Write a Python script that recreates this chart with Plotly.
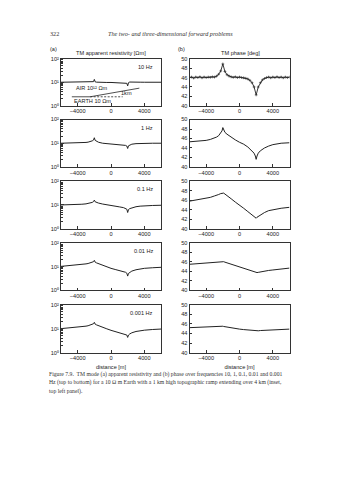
import plotly.graph_objects as go

W, H = 338, 480

# ---------------- data ----------------
frequencies = ["10 Hz", "1 Hz", "0.1 Hz", "0.01 Hz", "0.001 Hz"]

x_grid = [-6000, -5000, -4000, -3500, -3000, -2750, -2500, -2250, -2100, -2000,
          -1900, -1750, -1500, -1000, -500, 0, 500, 1000, 1500, 1750,
          1900, 2000, 2100, 2250, 2500, 3000, 3500, 4000, 5000, 6000]

rho_10 = [10, 10, 10, 10, 10, 10, 10.05, 10.2, 10.6, 13.2,
          10.4, 10.1, 9.9, 9.8, 9.8, 9.8, 9.75, 9.7, 9.6, 9.4,
          9.0, 7.0, 9.6, 10.2, 10.3, 10.1, 10.05, 10, 10, 10]
rho_1 = [10, 10.05, 10.2, 10.4, 10.8, 11.1, 11.6, 12.6, 13.6, 17.0,
         13.2, 12.0, 11.0, 10.0, 9.6, 9.3, 9.1, 8.9, 8.5, 8.1,
         7.6, 6.0, 7.8, 8.5, 9.1, 9.6, 9.8, 9.9, 10, 10]
rho_01 = [10, 10.1, 10.4, 10.7, 11.1, 11.4, 11.9, 12.8, 13.8, 16.0,
          13.6, 12.8, 12.0, 10.9, 10.0, 9.2, 8.7, 8.3, 7.7, 7.2,
          6.6, 4.8, 6.4, 7.0, 7.6, 8.4, 8.9, 9.2, 9.5, 9.7]
rho_001 = [10.3, 10.9, 11.8, 12.4, 13.1, 13.6, 14.3, 15.3, 16.2, 18.5,
           15.5, 14.5, 13.3, 11.5, 9.8, 8.5, 7.6, 7.0, 6.3, 5.8,
           5.3, 4.0, 5.2, 5.8, 6.5, 7.4, 8.0, 8.5, 9.0, 9.4]
rho_0001 = [10.0, 10.6, 11.4, 12.0, 12.7, 13.2, 13.9, 15.0, 16.0, 18.3,
            15.4, 14.4, 13.2, 11.4, 9.8, 8.5, 7.6, 7.0, 6.3, 5.9,
            5.4, 4.3, 5.4, 6.0, 6.7, 7.6, 8.2, 8.6, 9.2, 9.6]

x_fine = list(range(-6000, 6001, 250))
phase_10 = [46.0, 46.1, 45.9, 46.1, 46.0, 46.15, 45.95, 46.1, 46.0, 46.1, 46.05, 46.15, 46.1,
            46.3, 46.7, 47.4, 48.9, 47.3, 46.6, 46.3, 46.15, 46.05, 46.15, 46.0, 46.1,
            46.0, 45.95, 45.85, 45.7, 45.4, 44.9, 44.0, 42.3, 44.0, 44.9, 45.5, 45.8,
            46.0, 46.1, 45.95, 46.1, 46.0, 46.15, 46.0, 46.1, 45.95, 46.1, 46.0, 46.1]
phase_1 = [45.3, 45.4, 45.6, 45.8, 46.1, 46.3, 46.6, 47.1, 47.6, 48.3,
           47.7, 47.3, 46.9, 46.2, 45.7, 45.2, 44.8, 44.2, 43.4, 42.9,
           42.3, 41.6, 42.3, 42.9, 43.4, 44.0, 44.4, 44.7, 45.0, 45.1]
phase_01 = [45.8, 46.1, 46.4, 46.6, 46.9, 47.0, 47.2, 47.4, 47.5, 47.6,
            47.5, 47.3, 47.0, 46.3, 45.6, 45.0, 44.3, 43.6, 42.9, 42.6,
            42.4, 42.2, 42.4, 42.6, 42.9, 43.4, 43.8, 44.0, 44.3, 44.5]
phase_001 = [45.5, 45.65, 45.8, 45.85, 45.95, 46.0, 46.05, 46.1, 46.1, 46.1,
             46.05, 45.95, 45.8, 45.5, 45.2, 44.9, 44.6, 44.3, 44.0, 43.85,
             43.8, 43.7, 43.75, 43.8, 43.9, 44.1, 44.2, 44.3, 44.5, 44.7]
phase_0001 = [45.2, 45.3, 45.35, 45.4, 45.45, 45.45, 45.5, 45.5, 45.5, 45.5,
              45.45, 45.4, 45.3, 45.15, 45.0, 44.9, 44.8, 44.7, 44.6, 44.55,
              44.5, 44.5, 44.5, 44.55, 44.6, 44.65, 44.7, 44.75, 44.85, 44.9]

# inset sketch (top-left panel), in panel data units
inset_flat_x = [-4700, -2500]
inset_flat_y = [2.4, 2.4]
inset_ramp_x = [-2500, 3400]
inset_ramp_y = [2.4, 5.6]
inset_dash_x = [-2500, 1400]
inset_dash_y = [2.4, 2.4]

x_ticks = [-4000, 0, 4000]
x_ticktext = ["\u22124000", "0", "4000"]
rho_ticks = [1, 10, 100]
rho_ticktext = ["10\u2070", "10\u00b9", "10\u00b2"]
rho_minor = [2, 3, 4, 5, 6, 7, 8, 9, 20, 30, 40, 50, 60, 70, 80, 90]
phase_ticks = [40, 42, 44, 46, 48, 50]
phase_ticktext = ["40", "42", "44", "46", "48", "50"]

rho_series = [rho_10, rho_1, rho_01, rho_001, rho_0001]
phase_series = [phase_10, phase_1, phase_01, phase_001, phase_0001]

# ---------------- layout geometry (pixels) ----------------
col_px = [(61, 161), (189.5, 289.5)]
row_px = [(56.5, 104), (118, 166), (180.5, 228.5), (243, 291), (305.5, 354)]

SANS = "Liberation Sans, Arial, sans-serif"
SERIF = "Liberation Serif, Times New Roman, serif"
INK = "#222222"
FS = 5.6

fig = go.Figure()
layout = dict(
    width=W, height=H, margin=dict(l=0, r=0, t=0, b=0),
    paper_bgcolor="white", plot_bgcolor="white", showlegend=False,
    font=dict(family=SANS, size=FS, color=INK),
)
annotations = []

for r in range(5):
    for c in range(2):
        idx = r * 2 + c + 1
        xa = "xaxis" if idx == 1 else f"xaxis{idx}"
        ya = "yaxis" if idx == 1 else f"yaxis{idx}"
        xr = "x" if idx == 1 else f"x{idx}"
        yr = "y" if idx == 1 else f"y{idx}"
        x0, x1 = col_px[c]
        t0, b0 = row_px[r]
        common = dict(showline=True, mirror=True, linecolor="#333333", linewidth=1,
                      ticks="inside", ticklen=2.5, tickwidth=0.8, tickcolor="#333333",
                      showgrid=False, zeroline=False,
                      tickfont=dict(family=SANS, size=FS, color=INK))
        xdict = dict(domain=[x0 / W, x1 / W], anchor=yr, range=[-6000, 6000],
                     tickmode="array", tickvals=x_ticks, ticktext=x_ticktext, **common)
        if r == 4:
            xdict["title"] = dict(text="distance [m]", font=dict(family=SANS, size=FS),
                                  standoff=4)
        layout[xa] = xdict
        if c == 0:
            layout[ya] = dict(domain=[1 - b0 / H, 1 - t0 / H], anchor=xr, type="log",
                              range=[0, 2], tickmode="array", tickvals=rho_ticks,
                              ticktext=rho_ticktext,
                              minor=dict(ticks="inside", ticklen=1.5, tickvals=rho_minor,
                                         tickcolor="#333333", tickwidth=0.6),
                              **common)
            fig.add_trace(go.Scatter(x=x_grid, y=rho_series[r], mode="lines",
                                     line=dict(color=INK, width=1), xaxis=xr, yaxis=yr))
            annotations.append(dict(text=frequencies[r], xref=f"{xr} domain", yref=f"{yr} domain",
                                    x=0.94, y=0.83, xanchor="right", yanchor="middle",
                                    showarrow=False, font=dict(family=SANS, size=FS, color=INK)))
        else:
            layout[ya] = dict(domain=[1 - b0 / H, 1 - t0 / H], anchor=xr,
                              range=[40, 50], tickmode="array", tickvals=phase_ticks,
                              ticktext=phase_ticktext, **common)
            if r == 0:
                fig.add_trace(go.Scatter(x=x_fine, y=phase_series[r], mode="lines+markers",
                                         line=dict(color=INK, width=0.9),
                                         marker=dict(symbol="cross-thin", size=2,
                                                     line=dict(color=INK, width=0.6)),
                                         xaxis=xr, yaxis=yr))
            else:
                fig.add_trace(go.Scatter(x=x_grid, y=phase_series[r], mode="lines",
                                         line=dict(color=INK, width=1), xaxis=xr, yaxis=yr))

# inset sketch
fig.add_trace(go.Scatter(x=inset_flat_x, y=inset_flat_y, mode="lines",
                         line=dict(color=INK, width=0.8), xaxis="x", yaxis="y"))
fig.add_trace(go.Scatter(x=inset_ramp_x, y=inset_ramp_y, mode="lines",
                         line=dict(color=INK, width=0.8), xaxis="x", yaxis="y"))
fig.add_trace(go.Scatter(x=inset_dash_x, y=inset_dash_y, mode="lines",
                         line=dict(color=INK, width=0.8, dash="2px,1.5px"), xaxis="x", yaxis="y"))
annotations += [
    dict(text="AIR 10\u00b9\u00b2 Ωm", xref="x domain", yref="y domain", x=0.13, y=0.37,
         xanchor="left", yanchor="middle", showarrow=False, font=dict(size=FS)),
    dict(text="EARTH 10 Ωm", xref="x domain", yref="y domain", x=0.11, y=0.11,
         xanchor="left", yanchor="middle", showarrow=False, font=dict(size=FS)),
    dict(text="1km", xref="x domain", yref="y domain", x=0.655, y=0.27,
         xanchor="center", yanchor="middle", showarrow=False, font=dict(size=FS)),
]

# panel titles
annotations += [
    dict(text="(a)", xref="paper", yref="paper", x=48 / W, y=1 - 47 / H,
         xanchor="left", yanchor="middle", showarrow=False, font=dict(size=FS)),
    dict(text="TM apparent resistivity [Ωm]", xref="paper", yref="paper", x=110.5 / W,
         y=1 - 50.5 / H, xanchor="center", yanchor="middle", showarrow=False, font=dict(size=FS)),
    dict(text="(b)", xref="paper", yref="paper", x=176.5 / W, y=1 - 47 / H,
         xanchor="left", yanchor="middle", showarrow=False, font=dict(size=FS)),
    dict(text="TM phase [deg]", xref="paper", yref="paper", x=240 / W, y=1 - 51 / H,
         xanchor="center", yanchor="middle", showarrow=False, font=dict(size=FS)),
]

# page header
annotations += [
    dict(text="322", xref="paper", yref="paper", x=47.5 / W, y=1 - 31 / H,
         xanchor="left", yanchor="middle", showarrow=False,
         font=dict(family=SERIF, size=6.2, color="#333333")),
    dict(text="<i>The two- and three-dimensional forward problems</i>", xref="paper", yref="paper",
         x=170 / W, y=1 - 31 / H, xanchor="center", yanchor="middle", showarrow=False,
         font=dict(family=SERIF, size=6.2, color="#333333")),
]

# caption
caption_lines = [
    "Figure 7.9.  TM mode (a) apparent resistivity and (b) phase over frequencies 10, 1, 0.1, 0.01 and 0.001",
    "Hz (top to bottom) for a 10 Ω m Earth with a 1 km high topographic ramp extending over 4 km (inset,",
    "top left panel).",
]
for i, line in enumerate(caption_lines):
    annotations.append(dict(text=line, xref="paper", yref="paper", x=46.5 / W,
                            y=1 - (376 + 8.7 * i) / H, xanchor="left", yanchor="middle",
                            showarrow=False, font=dict(family=SERIF, size=5.7, color="#333333")))

layout["annotations"] = annotations
fig.update_layout(**layout)
fig.write_html("out.html")
